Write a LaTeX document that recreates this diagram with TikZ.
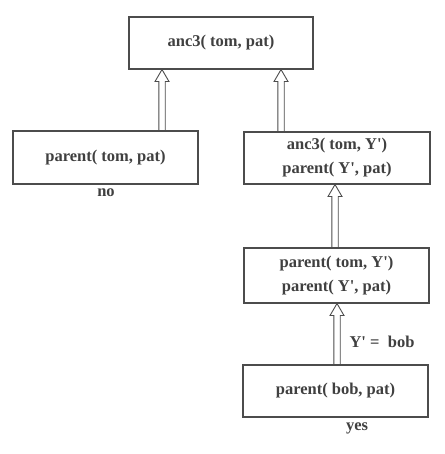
\documentclass[tikz,border=0pt]{standalone}
\usepackage{fontspec}
\setmainfont{Liberation Serif}
\usetikzlibrary{calc}
\newcommand\Yp{Y\textquotesingle}
\tikzset{
  goal/.style={draw=black!70, line width=1.1pt, fill=white, text=black!75,
    font=\fontsize{16.5}{24}\selectfont\bfseries, align=center, inner sep=0pt},
  lbl/.style={text=black!75, font=\fontsize{16.5}{19}\selectfont\bfseries, inner sep=0pt},
  harr/.style={draw=black!70, line width=0.9pt, line join=miter}
}
\newcommand\harrow[2]{%
  \draw[harr] ($(#1)+(-3.2pt,0)$) -- ($(#2)+(-3.2pt,-12pt)$) -- ($(#2)+(-7pt,-12pt)$) -- (#2)
    -- ($(#2)+(7pt,-12pt)$) -- ($(#2)+(3.2pt,-12pt)$) -- ($(#1)+(3.2pt,0)$);}
\begin{document}
\begin{tikzpicture}[x=1pt,y=1pt]
\useasboundingbox (0,0) rectangle (444,454);
\node[goal, minimum width=184pt, minimum height=52pt] (top) at (221,411) {anc3( tom, pat)};
\node[goal, minimum width=185pt, minimum height=53pt] (l) at (105.5,296.5) {parent( tom, pat)};
\node[goal, minimum width=186pt, minimum height=52pt] (r1) at (337,296) {anc3( tom, \Yp)\\parent( \Yp, pat)};
\node[goal, minimum width=185pt, minimum height=55pt] (r2) at (336.5,178.5) {parent( tom, \Yp)\\parent( \Yp, pat)};
\node[goal, minimum width=185pt, minimum height=52pt] (r3) at (335.5,63) {parent( bob, pat)};
\node[lbl] (no) at (106,261) {no};
\node[lbl] (yes) at (357,26) {yes};
\node[lbl] (sub) at (382,112) {\Yp\ =\hspace{0.5em}bob};
\coordinate (a1s) at ([xshift=56.5pt]l.north);
\coordinate (a1e) at (top.south -| a1s);
\coordinate (a2s) at ([xshift=-56pt]r1.north);
\coordinate (a2e) at (top.south -| a2s);
\coordinate (a3s) at ([xshift=-1.5pt]r2.north);
\coordinate (a3e) at (r1.south -| a3s);
\coordinate (a4s) at ([xshift=1.5pt]r3.north);
\coordinate (a4e) at (r2.south -| a4s);
\harrow{a1s}{a1e}
\harrow{a2s}{a2e}
\harrow{a3s}{a3e}
\harrow{a4s}{a4e}
\end{tikzpicture}
\end{document}
